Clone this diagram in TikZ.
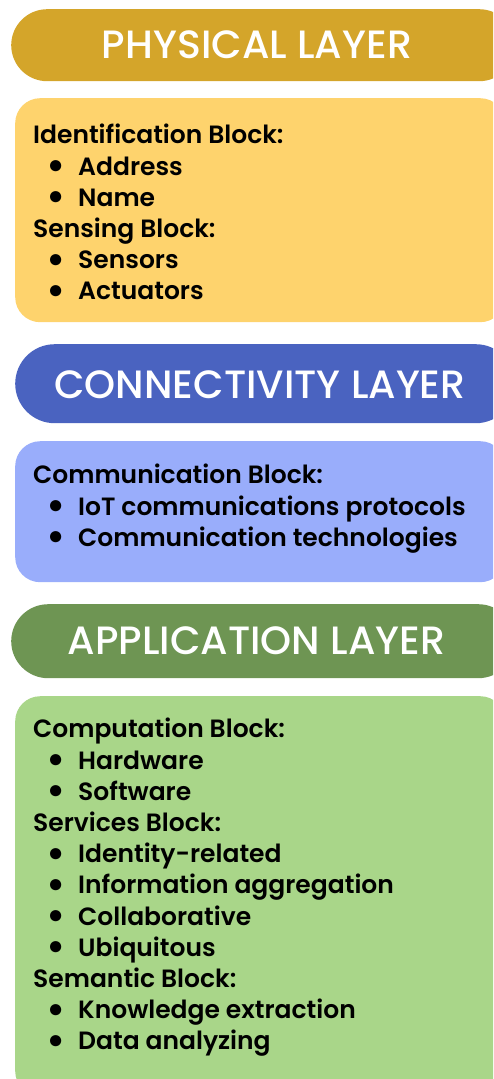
\documentclass[tikz,border=0pt]{standalone}
\usepackage{fontspec}
\newfontfamily\headfont{Poppins Medium}
\newfontfamily\bodyfont{Poppins SemiBold}
\definecolor{physhead}{HTML}{D4A52A}
\definecolor{physbody}{HTML}{FED36D}
\definecolor{conhead}{HTML}{4A63C0}
\definecolor{conbody}{HTML}{99ADFB}
\definecolor{apphead}{HTML}{6E9553}
\definecolor{appbody}{HTML}{A9D689}
\newcommand{\bul}{\makebox[0pt]{\smash{\raisebox{-4.5pt}{\scalebox{1.6}{\textbullet}}}}}
\newcommand{\itm}[1]{\hspace*{23pt}\bul\hspace*{22pt}#1}
\tikzset{
  headbox/.style={draw=none, inner sep=0pt, anchor=north west},
  bodybox/.style={draw=none, inner sep=0pt, anchor=north west, rounded corners=25pt},
  headtext/.style={text=white, inner sep=0pt, text height=27pt, text depth=0pt, font=\headfont\fontsize{39.5}{41}\selectfont},
  bodytext/.style={inner sep=0pt, anchor=north west, align=left, text=black, font=\bodyfont\fontsize{25}{31.2}\selectfont}
}
\begin{document}
\begin{tikzpicture}[x=1pt,y=-1pt]
\useasboundingbox (0,0) rectangle (493,1079);
\clip (0,0) rectangle (493,1079);
% physical
\node[headbox, fill=physhead, rounded corners=36pt, minimum width=504pt, minimum height=72pt] (physH) at (11,9) {};
\node[headtext] (physT) at (257,45) {PHYSICAL LAYER};
\node[bodybox, fill=physbody, minimum width=490pt, minimum height=224pt] (physB) at (15,98) {};
\node[bodytext] (physL) at (33,124) {Identification Block:\\
\itm{Address}\\
\itm{Name}\\
Sensing Block:\\
\itm{Sensors}\\
\itm{Actuators}};
% connectivity
\node[headbox, fill=conhead, rounded corners=39.5pt, minimum width=500pt, minimum height=79pt] (conH) at (15,344) {};
\node[headtext] (conT) at (260,384.5) {CONNECTIVITY LAYER};
\node[bodybox, fill=conbody, minimum width=490pt, minimum height=141pt] (conB) at (15,441) {};
\node[bodytext] (conL) at (33,464) {Communication Block:\\
\itm{IoT communications protocols}\\
\itm{Communication technologies}};
% application
\node[headbox, fill=apphead, rounded corners=37pt, minimum width=504pt, minimum height=74pt] (appH) at (11,604) {};
\node[headtext] (appT) at (256.5,640.5) {APPLICATION LAYER};
\node[bodybox, fill=appbody, minimum width=490pt, minimum height=400pt] (appB) at (15,696) {};
\node[bodytext] (appL) at (33,718) {Computation Block:\\
\itm{Hardware}\\
\itm{Software}\\
Services Block:\\
\itm{Identity-related}\\
\itm{Information aggregation}\\
\itm{Collaborative}\\
\itm{Ubiquitous}\\
Semantic Block:\\
\itm{Knowledge extraction}\\
\itm{Data analyzing}};
\end{tikzpicture}
\end{document}
